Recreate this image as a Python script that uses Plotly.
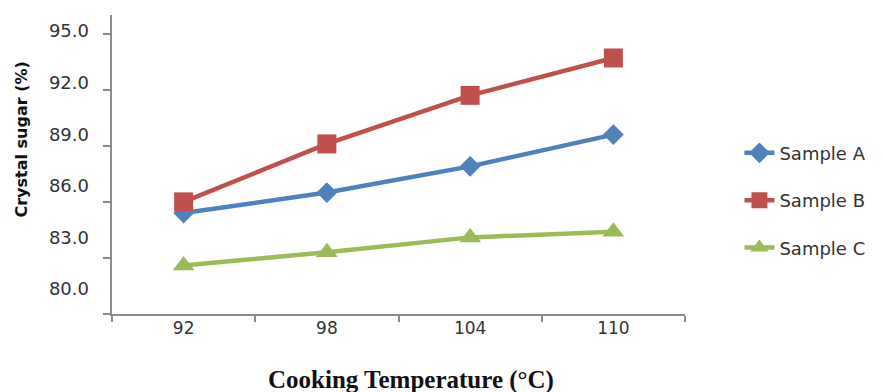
import plotly.graph_objects as go

categories = ["92", "98", "104", "110"]
sample_a = [85.4, 86.5, 87.9, 89.6]
sample_b = [86.0, 89.1, 91.7, 93.7]
sample_c = [82.6, 83.3, 84.1, 84.4]
y_ticks = [80, 83, 86, 89, 92, 95]
y_tick_text = ["80.0", "83.0", "86.0", "89.0", "92.0", "95.0"]

series = [
    ("Sample A", sample_a, "#4F81BD", "diamond", 16),
    ("Sample B", sample_b, "#C0504D", "square", 19),
    ("Sample C", sample_c, "#9BBB59", "triangle-up", 19),
]

fig = go.Figure()
for i, (name, vals, color, sym, size) in enumerate(series):
    fig.add_trace(go.Scatter(
        x=categories, y=vals, name=name, mode="lines+markers",
        line=dict(color=color, width=4.5),
        marker=dict(symbol=sym, size=size, color=color),
        legendgroup=f"g{i}",
    ))

# invisible trace to carry the label-only axis
fig.add_trace(go.Scatter(x=categories, y=[None]*4, yaxis="y2", showlegend=False,
                         hoverinfo="skip"))

axis_color = "#8c8c8c"
fig.update_layout(
    width=883, height=392,
    margin=dict(l=104, r=206, t=7, b=86),
    paper_bgcolor="white", plot_bgcolor="white",
    font=dict(family="DejaVu Sans", size=17, color="#333333"),
    showlegend=True,
    legend=dict(x=1.095, y=0.60, xanchor="left", yanchor="top",
                tracegroupgap=21, font=dict(size=18, color="#333333"),
                bgcolor="rgba(0,0,0,0)"),
    xaxis=dict(
        type="category", range=[-0.5, 3.5], automargin=False,
        showline=True, linecolor=axis_color, linewidth=1.5,
        ticks="outside", ticklen=6, tickcolor=axis_color, tickwidth=1.5,
        tickson="boundaries", showgrid=False, zeroline=False,
        tickfont=dict(size=17, color="#333333"),
        ticklabelstandoff=-2,
    ),
    yaxis=dict(
        range=[80, 96], showline=True, linecolor=axis_color, linewidth=1.5,
        automargin=False,
        ticks="outside", ticklen=7, tickcolor=axis_color, tickwidth=1.5,
        tickvals=y_ticks, showticklabels=False, showgrid=False, zeroline=False,
    ),
    yaxis2=dict(
        overlaying="y", side="left", range=[78.55, 95.93], automargin=False,
        showline=False, ticks="", tickvals=y_ticks, ticktext=y_tick_text,
        showgrid=False, zeroline=False, ticklabelstandoff=22,
        tickfont=dict(size=18, color="#333333"),
    ),
    annotations=[
        dict(text="<b>Crystal sugar (%)</b>", textangle=-90,
             xref="paper", yref="paper", x=-0.158, y=0.585,
             xanchor="center", yanchor="middle", showarrow=False,
             font=dict(family="DejaVu Sans", size=16, color="#111111")),
        dict(text="<b>Cooking Temperature (°C)</b>",
             xref="paper", yref="paper", x=0.522, y=-0.22,
             xanchor="center", yanchor="middle", showarrow=False,
             font=dict(family="Liberation Serif", size=25, color="#111111")),
    ],
)

fig.write_html("out.html")
